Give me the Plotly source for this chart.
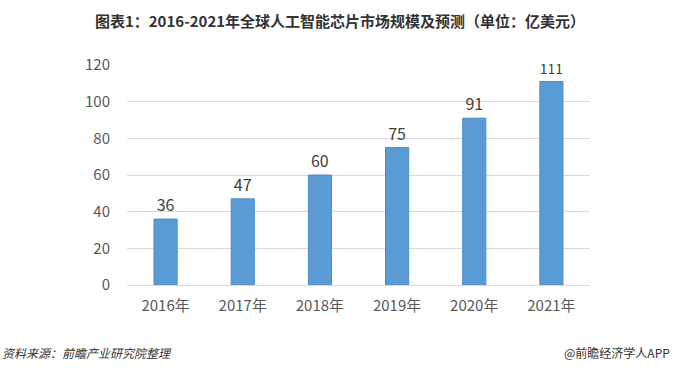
import plotly.graph_objects as go

categories = ["2016年", "2017年", "2018年", "2019年", "2020年", "2021年"]
values = [36, 47, 60, 75, 91, 111]
y_ticks = [0, 20, 40, 60, 80, 100, 120]

font_cjk = "Noto Sans CJK SC, Noto Sans, sans-serif"

fig = go.Figure(go.Bar(
    x=categories, y=values,
    marker=dict(color="#5B9BD5", line=dict(color="#4F8CC6", width=1)),
    text=[str(v) for v in values], textposition="outside",
    textfont=dict(size=16, color="#404040", family=font_cjk),
    cliponaxis=False,
))

fig.update_layout(
    width=680, height=370,
    margin=dict(l=127, r=90, t=65, b=85, autoexpand=False),
    paper_bgcolor="white", plot_bgcolor="white",
    bargap=0.7,
    showlegend=False,
    font=dict(family=font_cjk, color="#595959"),
    title=dict(text="<b>图表1：2016-2021年全球人工智能芯片市场规模及预测（单位：亿美元）</b>",
               x=0.5, xref="container", xanchor="center", y=0.94, yanchor="middle",
               font=dict(size=15, color="#333333", family=font_cjk)),
)
fig.update_yaxes(range=[0, 120], tickvals=y_ticks, showgrid=True, gridcolor="#D9D9D9",
                 gridwidth=1, zeroline=False, showline=False, automargin=False,
                 tickfont=dict(size=15, color="#595959"), ticks="", ticklen=0,
                 ticklabelstandoff=16)
fig.update_xaxes(showline=True, linecolor="#D9D9D9", linewidth=1, ticks="", automargin=False,
                 tickfont=dict(size=15, color="#595959"), ticklabelstandoff=7)

fig.add_annotation(text="<i>资料来源：前瞻产业研究院整理</i>", xref="paper", yref="paper",
                   x=-127/463, y=-67/220, xanchor="left", yanchor="middle", showarrow=False,
                   font=dict(size=12, color="#333333"))
fig.add_annotation(text="@前瞻经济学人APP", xref="paper", yref="paper",
                   x=(672-127)/463, y=-67/220, xanchor="right", yanchor="middle", showarrow=False,
                   font=dict(size=12, color="#333333"))

fig.write_html("out.html", config={"displayModeBar": False},
               post_script="document.body.style.margin='0';document.body.style.padding='0';")
